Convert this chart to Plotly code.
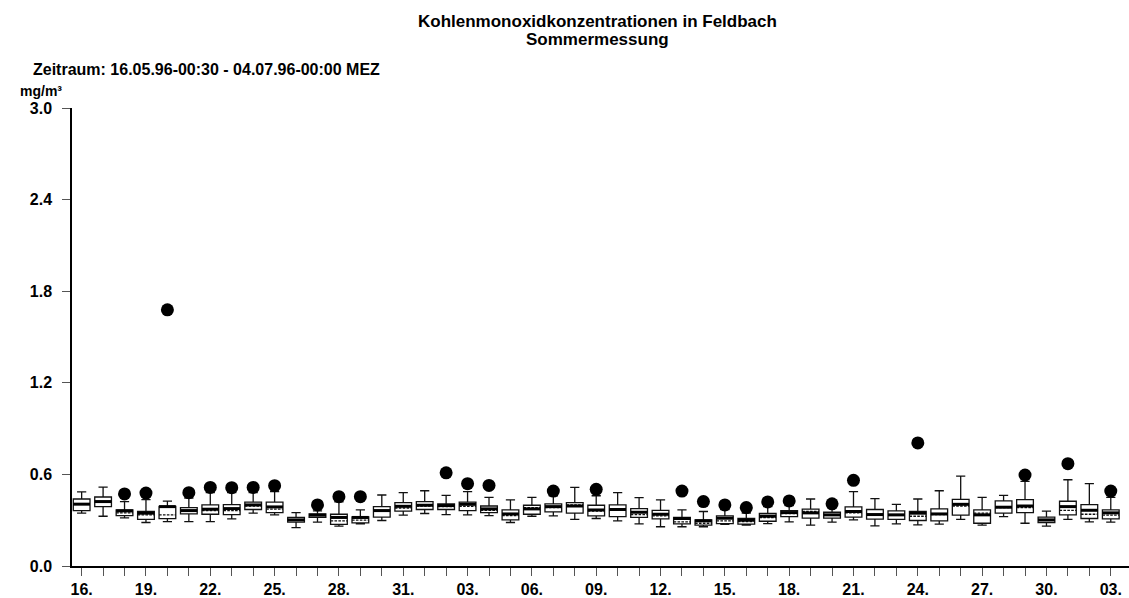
import plotly.graph_objects as go

# ---- data (mg/m³), one entry per day 16.05.96 .. 03.07.96 ----
days = ([f"{d:02d}.05." for d in range(16, 32)] +
        [f"{d:02d}.06." for d in range(1, 31)] +
        [f"{d:02d}.07." for d in range(1, 4)])

lower = [0.346, 0.326, 0.315, 0.285, 0.291, 0.291, 0.291, 0.309, 0.346, 0.335, 0.252, 0.287, 0.261, 0.276, 0.298, 0.333,
         0.344, 0.337, 0.335, 0.330, 0.285, 0.326, 0.328, 0.305, 0.311, 0.296, 0.276, 0.257, 0.257, 0.257, 0.272, 0.268,
         0.278, 0.289, 0.268, 0.287, 0.302, 0.263, 0.276, 0.270, 0.274, 0.305, 0.268, 0.324, 0.280, 0.261,
         0.305, 0.289, 0.287]
q1 = [0.363, 0.389, 0.330, 0.305, 0.310, 0.341, 0.339, 0.337, 0.370, 0.350, 0.287, 0.318, 0.272, 0.283, 0.320, 0.359,
      0.370, 0.370, 0.363, 0.350, 0.302, 0.339, 0.355, 0.346, 0.328, 0.324, 0.318, 0.309, 0.276, 0.268, 0.278, 0.274,
      0.293, 0.324, 0.313, 0.313, 0.320, 0.307, 0.305, 0.298, 0.296, 0.333, 0.280, 0.346, 0.350, 0.285,
      0.335, 0.311, 0.309]
median = [0.405, 0.422, 0.361, 0.346, 0.389, 0.363, 0.372, 0.376, 0.400, 0.387, 0.302, 0.333, 0.318, 0.318, 0.363, 0.391,
          0.398, 0.396, 0.404, 0.374, 0.341, 0.374, 0.389, 0.393, 0.367, 0.370, 0.352, 0.339, 0.311, 0.296, 0.313, 0.300,
          0.326, 0.350, 0.348, 0.335, 0.357, 0.337, 0.335, 0.346, 0.341, 0.404, 0.335, 0.385, 0.393, 0.302,
          0.389, 0.365, 0.348]
q3 = [0.439, 0.452, 0.367, 0.357, 0.391, 0.383, 0.400, 0.402, 0.418, 0.418, 0.318, 0.341, 0.339, 0.322, 0.389, 0.415,
      0.422, 0.407, 0.418, 0.393, 0.367, 0.398, 0.407, 0.415, 0.398, 0.400, 0.376, 0.365, 0.318, 0.302, 0.328, 0.311,
      0.344, 0.363, 0.372, 0.352, 0.387, 0.370, 0.361, 0.357, 0.374, 0.437, 0.367, 0.426, 0.435, 0.320,
      0.424, 0.402, 0.367]
upper = [0.485, 0.516, 0.422, 0.435, 0.425, 0.444, 0.480, 0.480, 0.480, 0.487, 0.350, 0.361, 0.420, 0.367, 0.465, 0.480,
         0.493, 0.463, 0.487, 0.450, 0.433, 0.450, 0.460, 0.515, 0.460, 0.480, 0.448, 0.433, 0.367, 0.357, 0.370, 0.346,
         0.389, 0.396, 0.439, 0.390, 0.487, 0.441, 0.404, 0.439, 0.493, 0.589, 0.450, 0.463, 0.554, 0.359,
         0.565, 0.539, 0.450]
mean = [0.405, 0.418, 0.348, 0.335, 0.335, 0.360, 0.363, 0.363, 0.393, 0.372, 0.302, 0.331, 0.296, 0.300, 0.363, 0.380,
        0.393, 0.389, 0.391, 0.365, 0.330, 0.383, 0.383, 0.400, 0.359, 0.365, 0.337, 0.328, 0.289, 0.280, 0.296, 0.291,
        0.317, 0.343, 0.357, 0.335, 0.348, 0.333, 0.335, 0.326, 0.337, 0.393, 0.346, 0.383, 0.383, 0.302,
        0.365, 0.339, 0.333]
outlier = [None, None, 0.472, 0.478, 1.678, 0.480, 0.515, 0.513, 0.515, 0.526, None, 0.400, 0.454, 0.454, None, None,
           None, 0.610, 0.539, 0.528, None, None, 0.491, None, 0.502, None, None, None, 0.491, 0.422, 0.400, 0.383,
           0.420, 0.426, None, 0.407, 0.561, None, None, 0.806, None, None, None, None, 0.596, None,
           0.670, None, 0.491]

ytick_vals = [0.0, 0.6, 1.2, 1.8, 2.4, 3.0]
ytick_text = ["0.0", "0.6", "1.2", "1.8", "2.4", "3.0"]

idx = list(range(len(days)))
xtick_text = [d[:3] if i % 3 == 0 else "" for i, d in enumerate(days)]

BOXW = 0.78
FONT = "Liberation Sans, Arial, sans-serif"

fig = go.Figure()

fig.add_trace(go.Box(
    x=idx, q1=q1, median=median, q3=q3, lowerfence=lower, upperfence=upper, mean=mean,
    boxmean=True, width=BOXW, whiskerwidth=0.55,
    fillcolor="white", line=dict(color="#111111", width=1.3),
    boxpoints=False, showlegend=False, hoverinfo="skip",
))

# thick median bars
mx, my = [], []
for i, m in zip(idx, median):
    mx += [i - BOXW / 2, i + BOXW / 2, None]
    my += [m, m, None]
fig.add_trace(go.Scatter(x=mx, y=my, mode="lines", line=dict(color="black", width=3),
                         showlegend=False, hoverinfo="skip"))

# outliers
ox = [i for i, o in zip(idx, outlier) if o is not None]
oy = [o for o in outlier if o is not None]
fig.add_trace(go.Scatter(x=ox, y=oy, mode="markers",
                         marker=dict(symbol="circle", size=13, color="black"),
                         showlegend=False, hoverinfo="skip"))

fig.update_layout(
    width=1129, height=598,
    margin=dict(l=72, r=0, t=108, b=30),
    paper_bgcolor="white", plot_bgcolor="white",
    font=dict(family=FONT, size=16, color="black", weight="bold"),
    showlegend=False,
    xaxis=dict(range=[-0.45, 48.85], tickmode="array", tickvals=idx, ticktext=xtick_text,
               showline=True, linecolor="black", linewidth=1.5, ticks="outside", ticklen=8,
               tickcolor="#555555", tickwidth=1.3, showgrid=False, zeroline=False,
               tickfont=dict(family=FONT, size=16, weight="bold")),
    yaxis=dict(range=[0, 3.0], tickmode="array", tickvals=ytick_vals, ticktext=ytick_text,
               showline=True, linecolor="black", linewidth=1.5, ticks="outside", ticklen=8,
               tickcolor="#555555", tickwidth=1.3, showgrid=False, zeroline=False,
               ticklabelstandoff=7,
               tickfont=dict(family=FONT, size=16, weight="bold")),
    annotations=[
        dict(text="Kohlenmonoxidkonzentrationen in Feldbach", xref="paper", yref="paper",
             x=0.4976, y=(568 - 21) / 460, xanchor="center", yanchor="middle", showarrow=False,
             font=dict(family=FONT, size=17, weight="bold")),
        dict(text="Sommermessung", xref="paper", yref="paper",
             x=0.4976, y=(568 - 39) / 460, xanchor="center", yanchor="middle", showarrow=False,
             font=dict(family=FONT, size=17, weight="bold")),
        dict(text="Zeitraum: 16.05.96-00:30 - 04.07.96-00:00 MEZ", xref="paper", yref="paper",
             x=-0.0388, y=1.0848, xanchor="left", yanchor="middle", showarrow=False,
             font=dict(family=FONT, size=16, weight="bold")),
        dict(text="mg/m³", xref="paper", yref="paper",
             x=-0.0511, y=1.037, xanchor="left", yanchor="middle", showarrow=False,
             font=dict(family=FONT, size=14, weight="bold")),
    ],
)

fig.write_html("out.html")
